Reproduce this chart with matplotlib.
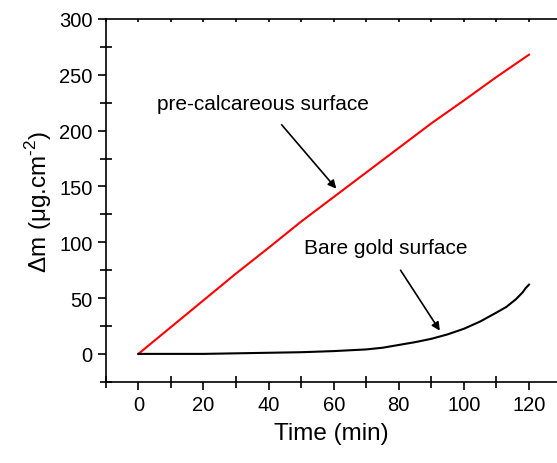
import numpy as np
import matplotlib
matplotlib.use("Agg")
import matplotlib.pyplot as plt
from matplotlib.ticker import MultipleLocator

plt.rcParams['font.family'] = ['Liberation Sans', 'DejaVu Sans']
plt.rcParams['axes.unicode_minus'] = False
plt.rcParams['mathtext.fontset'] = 'custom'
plt.rcParams['mathtext.rm'] = 'Liberation Sans'

# Pre-calcareous surface (red)
t_pre = [0, 10, 20, 30, 40, 50, 60, 70, 80, 90, 100, 110, 120]
m_pre = [0, 24, 48, 72, 95, 118.5, 140.5, 162.5, 184.5, 206.5, 227, 248, 268]

# Bare gold surface (black)
t_bare = [0, 10, 20, 30, 40, 50, 60, 70, 75, 80, 85, 90, 95, 100, 105, 110, 113, 116, 118, 119, 120]
m_bare = [0, 0, 0, 0.5, 1, 1.5, 2.5, 4, 5.5, 8, 10.5, 13.5, 17.5, 22.5, 29, 37, 42, 49, 55, 59, 62]

fig = plt.figure(figsize=(5.57, 4.64), dpi=100)
ax = fig.add_axes([0.19, 0.175, 0.81, 0.782])

ax.plot(t_pre, m_pre, color='#ff0000', lw=1.5)
ax.plot(t_bare, m_bare, color='black', lw=1.5)

ax.set_xlim(-10, 128.6)
ax.set_ylim(-25, 300)

ax.xaxis.set_major_locator(MultipleLocator(20))
ax.xaxis.set_minor_locator(MultipleLocator(10))
ax.yaxis.set_major_locator(MultipleLocator(50))
ax.yaxis.set_minor_locator(MultipleLocator(25))

ax.spines['right'].set_visible(False)
for s in ax.spines.values():
    s.set_linewidth(1.2)

ax.tick_params(axis='both', which='major', direction='out', length=6, width=1.2, labelsize=14.5)
ax.tick_params(axis='both', which='minor', direction='inout', length=9, width=1.2)
ax.tick_params(axis='x', which='both', top=True)
ax.tick_params(axis='y', which='both', right=False)
# top ticks are just tiny marks
for tl in ax.xaxis.get_major_ticks() + ax.xaxis.get_minor_ticks():
    tl.tick2line.set_marker(3)
    tl.tick2line.set_markersize(2)

ax.set_xlabel('Time (min)', fontsize=17.5, labelpad=6)
ax.set_ylabel('Δm (μg.cm$^{\\text{-2}}$)', fontsize=17.5, labelpad=4)

ax.annotate('pre-calcareous surface', xy=(60.8, 148), xytext=(38.3, 224.7),
            fontsize=15, ha='center', va='center',
            arrowprops=dict(arrowstyle='-|>', color='black', lw=1.2,
                            shrinkA=9, shrinkB=0, mutation_scale=12))
ax.annotate('Bare gold surface', xy=(92.6, 20.8), xytext=(76, 95.3),
            fontsize=15, ha='center', va='center',
            arrowprops=dict(arrowstyle='-|>', color='black', lw=1.2,
                            shrinkA=9, shrinkB=0, mutation_scale=12))

fig.savefig('out.png', dpi=100)
